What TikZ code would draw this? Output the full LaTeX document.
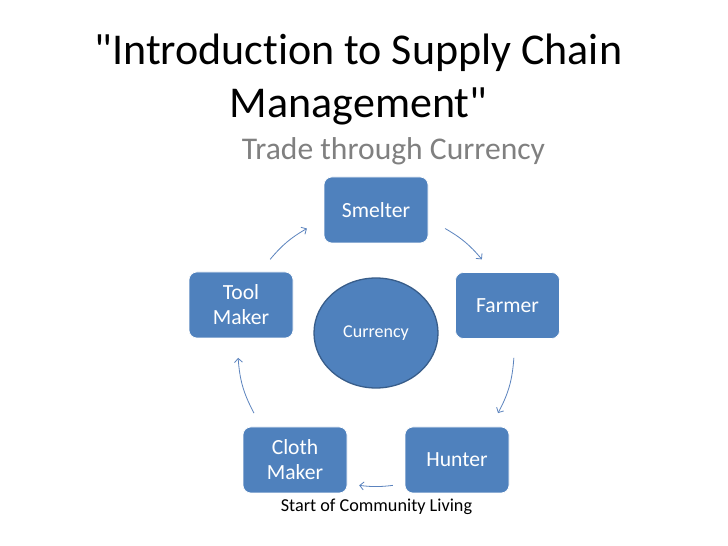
\documentclass[tikz,border=0pt]{standalone}
\usepackage{fontspec}
\setmainfont{Carlito}[Ligatures={TeXOff,NoCommon}]
\usetikzlibrary{arrows.meta,shapes.geometric}
\definecolor{boxblue}{RGB}{79,129,189}
\definecolor{rimblue}{RGB}{56,93,138}
\definecolor{arrblue}{RGB}{91,131,190}
\definecolor{subgray}{RGB}{128,128,128}
\tikzset{
  stagebox/.style={rectangle, rounded corners=8pt, fill=boxblue, draw=white, line width=0.6pt,
    minimum width=104pt, minimum height=66pt, text=white, align=center,
    font=\fontsize{21.6}{25}\selectfont, inner sep=0pt},
  hubcircle/.style={ellipse, fill=boxblue, draw=rimblue, line width=1.3pt,
    minimum width=124pt, minimum height=110pt, text=white, font=\fontsize{18}{21}\selectfont, inner sep=0pt},
  cyclearrow/.style={draw=arrblue, line width=0.8pt, -{Straight Barb[length=4pt,width=8pt]}},
  plaintext/.style={inner sep=0pt, anchor=base}
}
\begin{document}
\begin{tikzpicture}[x=1pt,y=1pt]
\useasboundingbox (0,0) rectangle (728,546);
\fill[white] (0,0) rectangle (728,546);
% title
\node[plaintext, font=\fontsize{44}{53}\selectfont] (title1) at (358.5,481) {"Introduction to Supply Chain};
\node[plaintext, font=\fontsize{44}{53}\selectfont] (title2) at (358.5,428) {Management"};
\node[plaintext, text=subgray, font=\fontsize{31.6}{36}\selectfont] (subtitle) at (393.5,386) {Trade through Currency};
% nodes
\node[stagebox] (smelter) at (376,336) {Smelter};
\node[stagebox] (farmer) at (507.5,240.5) {Farmer};
\node[stagebox] (hunter) at (457,86) {Hunter};
\node[stagebox] (cloth) at (295,86) {Cloth\\Maker};
\node[stagebox] (tool) at (241,241) {Tool\\Maker};
\node[hubcircle] (currency) at (376,213) {Currency};
% arrow end points on the cycle circle
\coordinate (cc) at (376,197.8);
\path (cc) ++(140:138.2) coordinate (a1s) (cc) ++(120:138.2) coordinate (a1e);
\path (cc) ++(60:138.2) coordinate (a2s) (cc) ++(40:138.2) coordinate (a2e);
\path (cc) ++(-4:138.2) coordinate (a3s) (cc) ++(-28:138.2) coordinate (a3e);
\path (cc) ++(-83:138.2) coordinate (a4s) (cc) ++(-97:138.2) coordinate (a4e);
\path (cc) ++(208:138.2) coordinate (a5s) (cc) ++(184:138.2) coordinate (a5e);
\draw[cyclearrow] (a1s) to[bend left=10] (a1e);
\draw[cyclearrow] (a2s) to[bend left=10] (a2e);
\draw[cyclearrow] (a3s) to[bend left=12] (a3e);
\draw[cyclearrow] (a4s) to[bend left=7] (a4e);
\draw[cyclearrow] (a5s) to[bend left=12] (a5e);
% caption
\node[plaintext, font=\fontsize{18.2}{22}\selectfont] (caption) at (376.5,34) {Start of Community Living};
\end{tikzpicture}
\end{document}
